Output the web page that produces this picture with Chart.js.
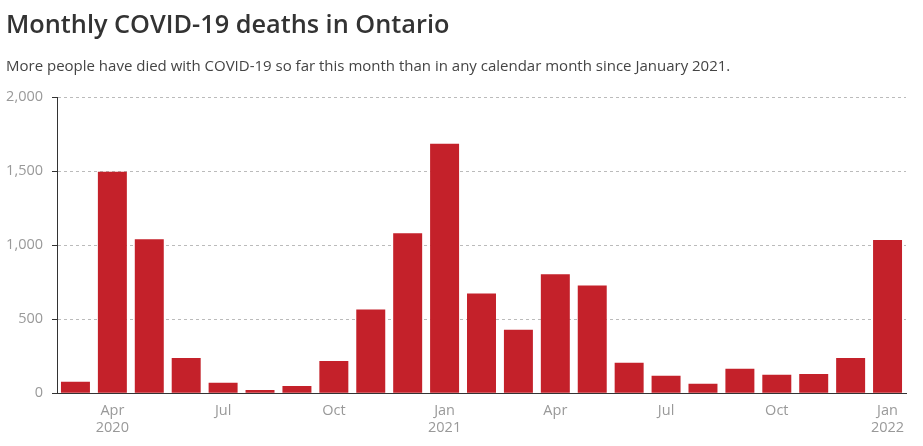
<!DOCTYPE html>
<html>
<head>
<meta charset="utf-8">
<script src="https://cdn.jsdelivr.net/npm/chart.js@4"></script>
<style>
  html, body { margin: 0; padding: 0; background: #fff; }
  #wrap { position: relative; width: 923px; height: 446px; overflow: hidden; }
  #title { position: absolute; left: 6px; top: 6px; margin: 0; font-family: "Open Sans", sans-serif; font-weight: 600; font-size: 25.3px; color: #333; white-space: nowrap; }
  #subtitle { position: absolute; left: 6px; top: 55px; margin: 0; font-family: "Open Sans", sans-serif; font-size: 15px; color: #444; white-space: nowrap; }
  canvas { position: absolute; left: 0; top: 0; }
</style>
</head>
<body>
<div id="wrap">
  <canvas id="c" width="923" height="446"></canvas>
  <h1 id="title">Monthly COVID-19 deaths in Ontario</h1>
  <p id="subtitle">More people have died with COVID-19 so far this month than in any calendar month since January 2021.</p>
</div>
<script>
const months = ["Mar","Apr","May","Jun","Jul","Aug","Sep","Oct","Nov","Dec",
                "Jan","Feb","Mar","Apr","May","Jun","Jul","Aug","Sep","Oct","Nov","Dec",
                "Jan"];
const years = [2020,2020,2020,2020,2020,2020,2020,2020,2020,2020,
               2021,2021,2021,2021,2021,2021,2021,2021,2021,2021,2021,2021,
               2022];
const deaths = [78, 1495, 1040, 238, 70, 22, 49, 218, 565, 1080,
                1685, 673, 428, 803, 728, 205, 117, 63, 165, 124, 130, 238,
                1034];
const yTicks = [0, 500, 1000, 1500, 2000];
const shownMonths = ["Apr","Jul","Oct","Jan"];

const labels = months.map((m, i) => m + " " + years[i]);

new Chart(document.getElementById("c"), {
  type: "bar",
  data: {
    labels: labels,
    datasets: [{
      data: deaths,
      backgroundColor: "#c4212a",
      borderWidth: 0,
      barPercentage: 0.785,
      categoryPercentage: 1.0
    }]
  },
  options: {
    responsive: false,
    animation: false,
    layout: { padding: { top: 97, right: 17, bottom: 0, left: 0 } },
    plugins: { legend: { display: false }, tooltip: { enabled: false } },
    scales: {
      x: {
        grid: { display: false, drawTicks: false },
        border: { display: true, color: "#333", width: 1 },
        ticks: {
          autoSkip: false,
          maxRotation: 0,
          padding: 9,
          color: "#999",
          font: { family: "Open Sans", size: 14.5 },
          callback: function (v, i) {
            const m = months[i];
            if (!shownMonths.includes(m)) return "";
            if ((m === "Apr" && years[i] === 2020) || m === "Jan") return [m, String(years[i])];
            return m;
          }
        }
      },
      y: {
        min: 0,
        max: 2000,
        afterBuildTicks: s => { s.ticks = yTicks.map(v => ({ value: v })); },
        afterFit: s => { s.width = 57; },
        grid: {
          color: "#bbb",
          tickColor: "#333",
          tickLength: 5,
          drawTicks: true
        },
        border: { display: true, color: "#333", width: 1, dash: [3, 3] },
        ticks: {
          padding: 9,
          color: "#999",
          font: { family: "Open Sans", size: 14.5 },
          callback: v => v.toLocaleString("en-US")
        }
      }
    }
  }
});
</script>
</body>
</html>
